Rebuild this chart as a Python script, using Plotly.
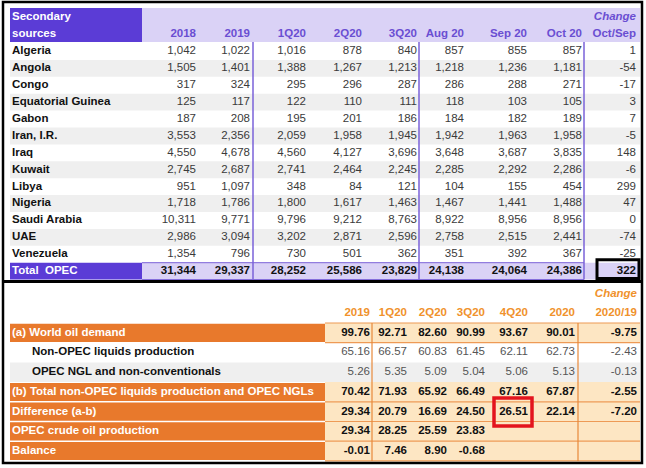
import plotly.graph_objects as go

# ---- top table: OPEC crude oil production, secondary sources (tb/d) ----
countries = ["Algeria", "Angola", "Congo", "Equatorial Guinea", "Gabon", "Iran, I.R.",
             "Iraq", "Kuwait", "Libya", "Nigeria", "Saudi Arabia", "UAE", "Venezuela"]
periods = ["2018", "2019", "1Q20", "2Q20", "3Q20", "Aug 20", "Sep 20", "Oct 20"]
p2018 = [1042, 1505, 317, 125, 187, 3553, 4550, 2745, 951, 1718, 10311, 2986, 1354]
p2019 = [1022, 1401, 324, 117, 208, 2356, 4678, 2687, 1097, 1786, 9771, 3094, 796]
p1q20 = [1016, 1388, 295, 122, 195, 2059, 4560, 2741, 348, 1800, 9796, 3202, 730]
p2q20 = [878, 1267, 296, 110, 201, 1958, 4127, 2464, 84, 1617, 9212, 2871, 501]
p3q20 = [840, 1213, 287, 111, 186, 1945, 3696, 2245, 121, 1463, 8763, 2596, 362]
paug20 = [857, 1218, 286, 118, 184, 1942, 3648, 2285, 104, 1467, 8922, 2758, 351]
psep20 = [855, 1236, 288, 103, 182, 1963, 3687, 2292, 155, 1441, 8956, 2515, 392]
poct20 = [857, 1181, 271, 105, 189, 1958, 3835, 2286, 454, 1488, 8956, 2441, 367]
change_oct_sep = [1, -54, -17, 3, 7, -5, 148, -6, 299, 47, 0, -74, -25]
total_opec = [31344, 29337, 28252, 25586, 23829, 24138, 24064, 24386]
total_change = 322

# ---- bottom table: supply/demand balance (mb/d) ----
bal_rows = ["(a) World oil demand", "Non-OPEC liquids production", "OPEC NGL and non-conventionals",
            "(b) Total non-OPEC liquids production and OPEC NGLs", "Difference (a-b)",
            "OPEC crude oil production", "Balance"]
bal_periods = ["2019", "1Q20", "2Q20", "3Q20", "4Q20", "2020", "2020/19"]
world_demand = [99.76, 92.71, 82.60, 90.99, 93.67, 90.01, -9.75]
non_opec = [65.16, 66.57, 60.83, 61.45, 62.11, 62.73, -2.43]
opec_ngl = [5.26, 5.35, 5.09, 5.04, 5.06, 5.13, -0.13]
total_supply = [70.42, 71.93, 65.92, 66.49, 67.16, 67.87, -2.55]
difference = [29.34, 20.79, 16.69, 24.50, 26.51, 22.14, -7.20]
opec_crude = [29.34, 28.25, 25.59, 23.83, None, None, None]
balance = [-0.01, 7.46, 8.90, -0.68, None, None, None]

top_cols = [p2018, p2019, p1q20, p2q20, p3q20, paug20, psep20, poct20]
bal_data = [world_demand, non_opec, opec_ngl, total_supply, difference, opec_crude, balance]
bal_highlight = [True, False, False, True, True, True, True]

# layout (pixel space)
FONT = "Liberation Sans"
PURPLE, LAVENDER, PURPLE_TXT = "#5B3CD6", "#DAD2F6", "#6A4ED2"
ORANGE, PEACH, ORANGE_TXT = "#E8792C", "#FDE6C3", "#F0922C"
top_right = [196, 250, 306, 362, 417, 464, 527, 582]
top_change_x = 636
top_row0, top_rh = 43, 16.9
bot_right = [370, 407, 447, 485, 528, 575, 637]
bot_row0, bot_rh = 323, 19.7

fig = go.Figure()
shapes = []


def rect(x0, y0, x1, y1, fill, line_color=None, lw=0, layer="below"):
    shapes.append(dict(type="rect", xref="x", yref="y", x0=x0, y0=y0, x1=x1, y1=y1,
                       fillcolor=fill, layer=layer,
                       line=dict(color=line_color or fill, width=lw)))


def hline(x0, x1, y, color, lw):
    shapes.append(dict(type="line", xref="x", yref="y", x0=x0, x1=x1, y0=y, y1=y,
                       line=dict(color=color, width=lw)))


def vline(x, y0, y1, color, lw):
    shapes.append(dict(type="line", xref="x", yref="y", x0=x, x1=x, y0=y0, y1=y1,
                       line=dict(color=color, width=lw)))


def text(xs, ys, labels, pos="middle left", color="#333", weight="normal", size=11.5, style="normal"):
    fig.add_trace(go.Scatter(x=xs, y=ys, text=labels, mode="text", textposition=pos,
                             textfont=dict(family=FONT, size=size, color=color, weight=weight, style=style),
                             hoverinfo="skip", showlegend=False, cliponaxis=False))


# ---- top table ----
rect(10, 8, 142, 42, PURPLE)
rect(142, 8, 640, 42, LAVENDER)
text([12, 12], [17, 34], ["Secondary", "sources"], pos="middle right", color="white", weight="bold")
text(top_right + [top_change_x], [34] * 9, periods + ["Oct/Sep"], color=PURPLE_TXT, weight="bold")
text([top_change_x], [17], ["Change"], color=PURPLE_TXT, weight="bold", style="italic")

for i, c in enumerate(countries):
    y0 = top_row0 + i * top_rh
    if i % 2 == 1:
        rect(10, y0, 640, y0 + top_rh, "#EFEFEF")
row_y = [top_row0 + (i + 0.5) * top_rh for i in range(len(countries))]
text([12] * len(countries), row_y, countries, pos="middle right", color="#111", weight="bold")
for x, col in zip(top_right, top_cols):
    text([x] * len(col), row_y, [f"{v:,}" for v in col], color="#3a3a3a")
text([top_change_x] * len(change_oct_sep), row_y, [str(v) for v in change_oct_sep], color="#3a3a3a")

ty0 = top_row0 + len(countries) * top_rh
ty1 = ty0 + top_rh
rect(10, ty0, 142, ty1, PURPLE)
rect(142, ty0, 640, ty1, LAVENDER)
hline(142, 584, ty0, "#7A62D8", 1)
hline(142, 584, ty1, "#7A62D8", 1)
ty = ty0 + top_rh / 2
text([12], [ty], ["Total  OPEC"], pos="middle right", color="white", weight="bold")
text(top_right, [ty] * 8, [f"{v:,}" for v in total_opec], color="#111", weight="bold")
text([top_change_x], [ty], [str(total_change)], color="#111", weight="bold")
for x in [253, 419, 584]:
    vline(x, 42, ty1, "#7A62D8", 1.5)
rect(597, ty0 - 3, 639, ty1 - 1, "rgba(0,0,0,0)", "black", 3, layer="above")

# ---- bottom table ----
text([bot_right[-1]], [294], ["Change"], color=ORANGE_TXT, weight="bold", style="italic")
text(bot_right, [313] * 7, bal_periods, color=ORANGE_TXT, weight="bold")
for i, (name, vals, hi) in enumerate(zip(bal_rows, bal_data, bal_highlight)):
    y0 = bot_row0 + i * bot_rh
    y1 = y0 + bot_rh
    yc = (y0 + y1) / 2
    if hi:
        rect(10, y0 + 0.8, 325, y1 - 0.8, ORANGE)
        rect(325, y0, 640, y1, PEACH)
        hline(325, 640, y1, "#EE9A55", 1.2)
        text([12], [yc], [name], pos="middle right", color="white", weight="bold")
        color, weight = "#111", "bold"
    else:
        if i == 2:
            rect(10, y0, 640, y1, "#EFEFEF")
        text([32], [yc], [name], pos="middle right", color="#111", weight="bold")
        color, weight = "#555", "normal"
    xs = [x for x, v in zip(bot_right, vals) if v is not None]
    labels = [f"{v:.2f}" for v in vals if v is not None]
    text(xs, [yc] * len(xs), labels, color=color, weight=weight)
hline(325, 640, bot_row0, "#EE9A55", 1.2)
bot_end = bot_row0 + len(bal_rows) * bot_rh
for x in [372, 578]:
    vline(x, bot_row0, bot_end, "#E8893A", 1.2)
# highlighted 4Q20 difference
shapes.append(dict(type="rect", xref="x", yref="y", x0=494, x1=532, y0=398, y1=426,
                   line=dict(color="#E3141E", width=3.5), layer="above"))

# frames
rect(3, 2, 642, 463, "rgba(0,0,0,0)", "black", 2.5, layer="above")
hline(3, 642, 281.5, "black", 3)

fig.update_layout(
    width=646, height=468, margin=dict(l=0, r=0, t=0, b=0),
    paper_bgcolor="white", plot_bgcolor="white",
    xaxis=dict(range=[0, 646], visible=False, fixedrange=True),
    yaxis=dict(range=[468, 0], visible=False, fixedrange=True),
    shapes=shapes,
)
# page body has a default 8px margin; drop it so the figure fills the window
fig.write_html("out.html", config={"displayModeBar": False},
               post_script="document.body.style.margin='0';document.body.style.overflow='hidden';")
